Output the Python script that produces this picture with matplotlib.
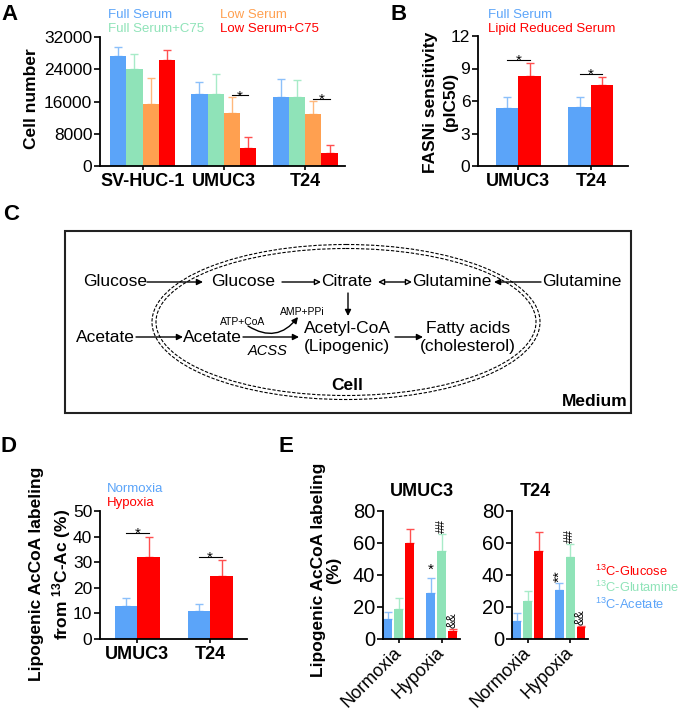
import numpy as np
import matplotlib.pyplot as plt
from matplotlib.patches import Rectangle, Ellipse

plt.rcParams['font.family'] = ['Liberation Sans', 'DejaVu Sans']
plt.rcParams['mathtext.fontset'] = 'custom'
plt.rcParams['mathtext.rm'] = 'Liberation Sans'
plt.rcParams['mathtext.it'] = 'Liberation Sans:italic'
plt.rcParams['mathtext.bf'] = 'Liberation Sans:bold'

W, H = 685, 711

# ---- data ----
# A: cell number
a_groups = ['SV-HUC-1', 'UMUC3', 'T24']
a_series = ['Full Serum', 'Full Serum+C75', 'Low Serum', 'Low Serum+C75']
a_full = [27300, 17800, 17000]
a_full_sd = [2200, 3000, 4700]
a_full_c75 = [24000, 17900, 17000]
a_full_c75_sd = [3900, 5000, 4300]
a_low = [15500, 13200, 12900]
a_low_sd = [6400, 3800, 3300]
a_low_c75 = [26200, 4500, 3300]
a_low_c75_sd = [2500, 2700, 1900]
a_yticks = [0, 8000, 16000, 24000, 32000]

# B: FASNi sensitivity
b_groups = ['UMUC3', 'T24']
b_series = ['Full Serum', 'Lipid Reduced Serum']
b_full = [5.31, 5.46]
b_full_sd = [1.08, 0.93]
b_lipid = [8.33, 7.47]
b_lipid_sd = [1.21, 0.71]
b_yticks = [0, 3, 6, 9, 12]

# D: labeling from 13C-Ac
d_groups = ['UMUC3', 'T24']
d_series = ['Normoxia', 'Hypoxia']
d_norm = [13.0, 11.0]
d_norm_sd = [3.0, 2.6]
d_hyp = [32.0, 24.7]
d_hyp_sd = [8.0, 6.0]
d_yticks = [0, 10, 20, 30, 40, 50]

# E: labeling by tracer
e_cells = ['UMUC3', 'T24']
e_conds = ['Normoxia', 'Hypoxia']
e_tracers = ['$^{13}$C-Acetate', '$^{13}$C-Glutamine', '$^{13}$C-Glucose']
e_umuc3_acetate = [12.5, 28.9]
e_umuc3_acetate_sd = [4.5, 9.0]
e_umuc3_glutamine = [18.8, 55.0]
e_umuc3_glutamine_sd = [7.0, 10.6]
e_umuc3_glucose = [60.2, 5.0]
e_umuc3_glucose_sd = [8.3, 1.2]
e_t24_acetate = [11.3, 30.6]
e_t24_acetate_sd = [4.7, 4.2]
e_t24_glutamine = [23.9, 51.4]
e_t24_glutamine_sd = [6.3, 8.0]
e_t24_glucose = [55.2, 7.3]
e_t24_glucose_sd = [11.5, 0.8]
e_yticks = [0, 20, 40, 60, 80]

blue, green, orange, red = '#5ba4f9', '#8fe3b8', '#ffa050', '#ff0000'
blue_e, green_e, orange_e, red_e = '#8cc0fa', '#a8ebc8', '#ffb87c', '#ff5050'


def box(l, t, r, b):
    return [l / W, 1 - b / H, (r - l) / W, (b - t) / H]


def ftext(x, y, s, **kw):
    fig.text(x / W, 1 - y / H, s, **kw)


def bars(ax, x, vals, sd, w, color, ecolor):
    ax.bar(x, vals, w, color=color, zorder=2)
    ax.errorbar(x, vals, yerr=[np.zeros(len(vals)), sd], fmt='none', ecolor=ecolor,
                elinewidth=1, capsize=3, capthick=1, zorder=1)


def style(ax, xlim, ylim, yticks, xticks, xlabels, ysize=12.5):
    for s in ['top', 'right']:
        ax.spines[s].set_visible(False)
    for s in ['left', 'bottom']:
        ax.spines[s].set_linewidth(1.3)
    ax.set_xlim(xlim)
    ax.set_ylim(ylim)
    ax.set_yticks(yticks)
    ax.set_xticks(xticks)
    ax.set_xticklabels(xlabels)
    ax.tick_params(axis='y', direction='out', length=4, width=1.2, labelsize=ysize, pad=1.5)
    ax.tick_params(axis='x', direction='out', length=3, width=1.2, labelsize=13, pad=2)


def sig(ax, x1, x2, y, s='*'):
    ax.plot([x1, x2], [y, y], color='k', lw=0.8)
    ax.annotate(s, xy=((x1 + x2) / 2, y), xytext=(0, -3.5), textcoords='offset points',
                ha='center', va='baseline', fontsize=11)


fig = plt.figure(figsize=(6.85, 7.11), dpi=100)

# ---- panel C (diagram, drawn in pixel space) ----
axc = fig.add_axes([0, 0, 1, 1])
axc.set_xlim(0, W)
axc.set_ylim(H, 0)
axc.axis('off')
axc.add_patch(Rectangle((65, 231), 566, 182, fill=False, lw=1.5, ec='#222222'))
axc.add_patch(Ellipse((346, 322), 388, 155, fill=False, lw=0.8, ls=(0, (3, 1.5))))
axc.add_patch(Ellipse((346, 322), 380, 147, fill=False, lw=0.8, ls=(0, (3, 1.5))))


def ctext(x, y, s, fs=12.5, **kw):
    axc.text(x, y, s, fontsize=fs, ha=kw.pop('ha', 'center'), va='center', **kw)


def arrow(p1, p2, style='-|>', hollow=False, conn=None):
    props = dict(arrowstyle=style, lw=1, ec='k', fc='white' if hollow else 'k',
                 mutation_scale=9, shrinkA=0, shrinkB=0)
    if conn:
        props['connectionstyle'] = conn
    axc.annotate('', xy=p2, xytext=p1, arrowprops=props)


ctext(115, 282, 'Glucose')
ctext(243, 282, 'Glucose')
ctext(347, 282, 'Citrate')
ctext(452, 282, 'Glutamine')
ctext(582, 282, 'Glutamine')
ctext(105, 337, 'Acetate')
ctext(212, 337, 'Acetate')
ctext(347, 328, 'Acetyl-CoA')
ctext(347, 347, '(Lipogenic)')
ctext(468, 328, 'Fatty acids')
ctext(468, 347, '(cholesterol)')
ctext(243, 322, 'ATP+CoA', fs=7.5)
ctext(302, 312, 'AMP+PPi', fs=7.5)
ctext(268, 351, 'ACSS', fs=10.5, style='italic')
ctext(347, 385, 'Cell', fs=12.5, weight='bold')
ctext(628, 402, 'Medium', fs=12.5, weight='bold', ha='right')

arrow((147, 282), (203, 282))
arrow((282, 282), (321, 282), hollow=True)
arrow((378, 282), (412, 282), style='<|-|>', hollow=True)
arrow((541, 282), (494, 282))
arrow((348, 293), (348, 316))
arrow((136, 337), (183, 337))
arrow((243, 337), (299, 337))
arrow((248, 326), (298, 317), conn='arc3,rad=0.45')
arrow((395, 337), (423, 337))

# ---- panel A ----
axA = fig.add_axes(box(100, 37, 345, 166))
xa = np.arange(len(a_groups))
wa = 0.2
a_vals = [a_full, a_full_c75, a_low, a_low_c75]
a_sds = [a_full_sd, a_full_c75_sd, a_low_sd, a_low_c75_sd]
a_cols = [blue, green, orange, red]
a_ecols = [blue_e, green_e, orange_e, red_e]
for i in range(4):
    bars(axA, xa + (i - 1.5) * wa, a_vals[i], a_sds[i], wa, a_cols[i], a_ecols[i])
style(axA, (-0.523, 2.49), (0, 32000), a_yticks, xa, a_groups)
for lab in axA.get_xticklabels():
    lab.set_fontweight('bold')
sig(axA, xa[1] + 0.5 * wa, xa[1] + 1.5 * wa, 17500)
sig(axA, xa[2] + 0.5 * wa, xa[2] + 1.5 * wa, 16600)

ftext(1, 15, 'A', fontsize=16, weight='bold', ha='left', va='center')
ftext(32, 99, 'Cell number', fontsize=12.5, weight='bold', rotation=90, ha='center', va='center')
ftext(108, 15, a_series[0], color=blue, fontsize=9.5, va='center')
ftext(108, 29, a_series[1], color=green, fontsize=9.5, va='center')
ftext(220, 15, a_series[2], color=orange, fontsize=9.5, va='center')
ftext(220, 29, a_series[3], color=red, fontsize=9.5, va='center')

# ---- panel B ----
axB = fig.add_axes(box(478, 36, 628, 166))
xb = np.arange(len(b_groups))
wb = 0.31
bars(axB, xb - wb / 2, b_full, b_full_sd, wb, blue, blue_e)
bars(axB, xb + wb / 2, b_lipid, b_lipid_sd, wb, red, red_e)
style(axB, (-0.555, 1.51), (0, 12), b_yticks, xb, b_groups)
for lab in axB.get_xticklabels():
    lab.set_fontweight('bold')
sig(axB, xb[0] - wb / 2, xb[0] + wb / 2, 9.78)
sig(axB, xb[1] - wb / 2, xb[1] + wb / 2, 8.49)

ftext(390, 14, 'B', fontsize=16, weight='bold', ha='left', va='center')
ftext(430, 102, 'FASNi sensitivity', fontsize=12.5, weight='bold', rotation=90,
      ha='center', va='center')
ftext(451, 102, '(pIC50)', fontsize=12.5, weight='bold', rotation=90,
      ha='center', va='center')
ftext(488, 15, b_series[0], color=blue, fontsize=9.5, va='center')
ftext(488, 29, b_series[1], color=red, fontsize=9.5, va='center')

ftext(3, 215, 'C', fontsize=16, weight='bold', ha='left', va='center')

# ---- panel D ----
axD = fig.add_axes(box(100, 511, 247, 639))
xd = np.arange(len(d_groups))
wd = 0.31
bars(axD, xd - wd / 2, d_norm, d_norm_sd, wd, blue, blue_e)
bars(axD, xd + wd / 2, d_hyp, d_hyp_sd, wd, red, red_e)
style(axD, (-0.513, 1.505), (0, 50), d_yticks, xd, d_groups)
for lab in axD.get_xticklabels():
    lab.set_fontweight('bold')
sig(axD, xd[0] - wd / 2, xd[0] + wd / 2, 41.3)
sig(axD, xd[1] - wd / 2, xd[1] + wd / 2, 32.2)

ftext(1, 447, 'D', fontsize=16, weight='bold', ha='left', va='center')
ftext(51, 574, 'Lipogenic AcCoA labeling\nfrom $\\mathbf{^{13}}$C-Ac (%)', fontsize=12.5,
      weight='bold', rotation=90, ha='center', va='center', multialignment='center',
      linespacing=1.35)
ftext(107, 489, d_series[0], color=blue, fontsize=9.5, va='center')
ftext(107, 503, d_series[1], color=red, fontsize=9.5, va='center')

# ---- panel E ----
ftext(279, 447, 'E', fontsize=16, weight='bold', ha='left', va='center')
ftext(326, 570, 'Lipogenic AcCoA labeling\n(%)', fontsize=12.5, weight='bold',
      rotation=90, ha='center', va='center', multialignment='center', linespacing=1.0)

e_data = [
    ([e_umuc3_acetate, e_umuc3_glutamine, e_umuc3_glucose],
     [e_umuc3_acetate_sd, e_umuc3_glutamine_sd, e_umuc3_glucose_sd]),
    ([e_t24_acetate, e_t24_glutamine, e_t24_glucose],
     [e_t24_acetate_sd, e_t24_glutamine_sd, e_t24_glucose_sd]),
]
e_boxes = [(383, 511, 460, 639), (512, 511, 588, 639)]
e_titles_x = [422, 535]
e_star = ['*', '**']
xe = np.arange(len(e_conds))
we = 0.21
off = 0.255
for k in range(2):
    ax = fig.add_axes(box(*e_boxes[k]))
    vals, sds = e_data[k]
    cols = [blue, green, red]
    ecols = [blue_e, green_e, red_e]
    for i in range(3):
        bars(ax, xe + (i - 1) * off, vals[i], sds[i], we, cols[i], ecols[i])
    style(ax, (-0.37, 1.42), (0, 80), e_yticks, xe, e_conds, ysize=14.5)
    ax.set_xticklabels(e_conds, rotation=45, ha='right', rotation_mode='anchor', va='center')
    ax.tick_params(axis='x', labelsize=13, pad=5)
    h = 1
    ax.annotate(e_star[k], xy=(xe[h] - off, vals[0][h] + sds[0][h]), xytext=(0, 1),
                textcoords='offset points', ha='center', va='bottom', fontsize=11,
                rotation=90 if k == 1 else 0)
    ax.annotate('##', xy=(xe[h], vals[1][h] + sds[1][h]), xytext=(0, 1),
                textcoords='offset points', ha='center', va='bottom', fontsize=9, rotation=90)
    ax.annotate('&&', xy=(xe[h] + off, vals[2][h] + sds[2][h]), xytext=(0, 1),
                textcoords='offset points', ha='center', va='bottom', fontsize=8.5, rotation=90)
    ftext(e_titles_x[k], 492, e_cells[k], fontsize=13, weight='bold', ha='center', va='center')

ftext(595, 571, e_tracers[2], color=red, fontsize=9.3, va='center')
ftext(595, 587.5, e_tracers[1], color=green, fontsize=9.3, va='center')
ftext(595, 604, e_tracers[0], color=blue, fontsize=9.3, va='center')

fig.savefig('out.png', dpi=100)
